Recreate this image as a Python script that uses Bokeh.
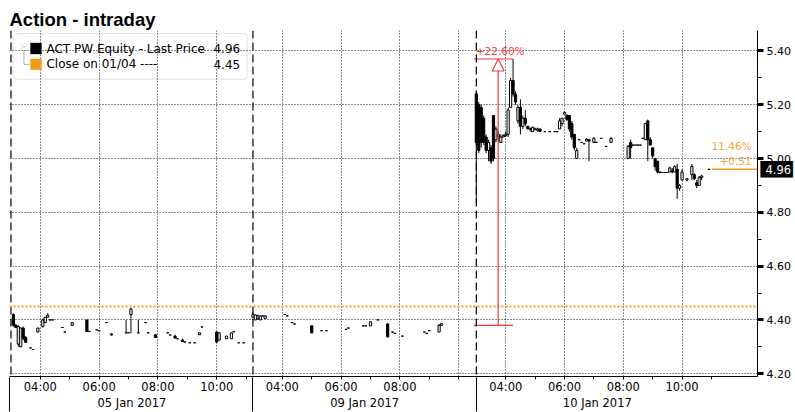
from bokeh.plotting import figure
from bokeh.models import (Range1d, LinearAxis, FixedTicker, Span, Label, Arrow, NormalHead,
                          ColumnDataSource, BoxAnnotation, PrintfTickFormatter)
from bokeh.embed import file_html
from bokeh.resources import INLINE

# ---------------- data ----------------
TITLE = "Action - intraday"
SECURITY = "ACT PW Equity - Last Price"
REF_LABEL = "Close on 01/04 ----"
LAST_PRICE = 4.96
PREV_CLOSE = 4.45
MOVE_LOW = 4.38

SESSION_DATES = ["05 Jan 2017", "09 Jan 2017", "10 Jan 2017"]
SESSION_OPEN = ["03:00", "03:00", "03:00"]
SESSION_CLOSE = ["11:14", "10:36", "11:14"]
AXIS_END = "12:34"
TICK_HOURS = [[4, 5, 6, 7, 8, 9, 10, 11], [4, 5, 6, 7, 8, 9, 10], [4, 5, 6, 7, 8, 9, 10, 11]]
LABEL_HOURS = [[4, 6, 8, 10], [4, 6, 8], [4, 6, 8, 10]]
GRID_HOURS = [[4, 6, 8, 10], [4, 6, 8, 10], [4, 6, 8, 10]]
Y_TICKS = [4.20, 4.40, 4.60, 4.80, 5.00, 5.20, 5.40]
Y_MINOR = [4.20, 4.30, 4.40, 4.50, 4.60, 4.70, 4.80, 4.90, 5.00, 5.10, 5.20, 5.30, 5.40]

# session 1 : 05 Jan 2017
s1_time = ["03:05", "03:10", "03:15", "03:20", "03:25", "03:30", "03:40", "03:45", "03:55", "04:05",
           "04:10", "04:15", "04:20", "04:25", "04:45", "04:50", "05:05", "05:35", "05:40", "05:55",
           "06:00", "06:15", "06:25", "06:55", "07:00", "07:05", "07:20", "07:35", "07:40", "07:55",
           "08:20", "08:25", "08:35", "08:40", "08:50", "08:55", "09:05", "09:15", "09:25", "09:30",
           "10:00", "10:05", "10:20", "10:30", "10:35", "10:45", "10:55"]
s1_open = [4.42, 4.38, 4.31, 4.30, 4.37, 4.335, 4.296, 4.29, 4.355, 4.375,
           4.39, 4.41, 4.40, 4.40, 4.372, 4.355, 4.38, 4.40, 4.357, 4.363,
           4.36, 4.39, 4.348, 4.352, 4.352, 4.42, 4.352, 4.39, 4.352, 4.345,
           4.352, 4.344, 4.34, 4.33, 4.325, 4.318, 4.315, 4.315, 4.345, 4.374,
           4.355, 4.325, 4.33, 4.33, 4.356, 4.315, 4.315]
s1_high = [4.425, 4.385, 4.38, 4.372, 4.375, 4.34, 4.296, 4.29, 4.37, 4.405,
           4.41, 4.425, 4.40, 4.40, 4.372, 4.355, 4.39, 4.40, 4.357, 4.363,
           4.36, 4.39, 4.35, 4.40, 4.352, 4.445, 4.40, 4.39, 4.352, 4.345,
           4.352, 4.344, 4.345, 4.33, 4.33, 4.318, 4.315, 4.315, 4.352, 4.374,
           4.356, 4.355, 4.34, 4.355, 4.356, 4.315, 4.315]
s1_low = [4.375, 4.37, 4.30, 4.30, 4.325, 4.315, 4.296, 4.29, 4.355, 4.372,
          4.39, 4.41, 4.40, 4.40, 4.372, 4.355, 4.38, 4.355, 4.357, 4.363,
          4.36, 4.39, 4.342, 4.352, 4.352, 4.35, 4.352, 4.39, 4.352, 4.335,
          4.352, 4.344, 4.33, 4.33, 4.318, 4.318, 4.315, 4.315, 4.345, 4.374,
          4.315, 4.325, 4.33, 4.33, 4.356, 4.315, 4.315]
s1_close = [4.38, 4.372, 4.375, 4.37, 4.33, 4.317, 4.296, 4.29, 4.37, 4.40,
            4.41, 4.418, 4.40, 4.40, 4.372, 4.355, 4.39, 4.357, 4.357, 4.363,
            4.36, 4.39, 4.344, 4.352, 4.352, 4.44, 4.352, 4.39, 4.352, 4.335,
            4.352, 4.344, 4.333, 4.33, 4.32, 4.318, 4.315, 4.315, 4.352, 4.374,
            4.318, 4.352, 4.34, 4.352, 4.356, 4.315, 4.315]

# session 2 : 09 Jan 2017
s2_time = ["03:00", "03:05", "03:10", "03:15", "03:20", "03:25", "04:05", "04:10", "04:20", "04:25",
           "05:00", "05:20", "05:30", "06:10", "06:15", "06:45", "06:50", "07:00", "07:15", "07:35",
           "07:45", "07:50", "08:05", "08:50", "08:55", "09:00", "09:20", "09:25"]
s2_open = [4.41, 4.40, 4.405, 4.40, 4.415, 4.405, 4.42, 4.415, 4.39, 4.385,
           4.378, 4.36, 4.36, 4.365, 4.37, 4.378, 4.378, 4.378, 4.40, 4.385,
           4.355, 4.35, 4.34, 4.355, 4.35, 4.36, 4.355, 4.38]
s2_high = [4.428, 4.42, 4.42, 4.416, 4.415, 4.416, 4.42, 4.415, 4.39, 4.385,
           4.38, 4.36, 4.36, 4.365, 4.37, 4.378, 4.378, 4.395, 4.40, 4.388,
           4.355, 4.35, 4.34, 4.355, 4.35, 4.36, 4.385, 4.386]
s2_low = [4.41, 4.40, 4.40, 4.40, 4.415, 4.405, 4.42, 4.415, 4.39, 4.385,
          4.35, 4.36, 4.36, 4.365, 4.37, 4.378, 4.378, 4.378, 4.40, 4.335,
          4.355, 4.35, 4.34, 4.355, 4.35, 4.36, 4.355, 4.38]
s2_close = [4.42, 4.418, 4.415, 4.415, 4.415, 4.415, 4.42, 4.415, 4.39, 4.385,
            4.352, 4.36, 4.36, 4.365, 4.37, 4.378, 4.378, 4.393, 4.40, 4.337,
            4.355, 4.35, 4.34, 4.355, 4.35, 4.36, 4.38, 4.386]

# session 3 : 10 Jan 2017
s3_time = ["03:00", "03:05", "03:10", "03:15", "03:20", "03:25", "03:30", "03:35", "03:40", "03:45",
           "03:50", "03:55", "04:00", "04:05", "04:10", "04:15", "04:20", "04:25", "04:30", "04:35",
           "04:40", "04:45", "04:50", "04:55", "05:00", "05:05", "05:10", "05:20", "05:30", "05:40",
           "05:45", "05:50", "05:55", "06:00", "06:05", "06:10", "06:15", "06:20", "06:25", "06:30",
           "06:35", "06:40", "06:45", "06:50", "07:00", "07:05", "07:15", "07:25", "07:35", "08:10",
           "08:15", "08:20", "08:25", "08:30", "08:35", "08:40", "08:45", "08:50", "08:55", "09:00",
           "09:05", "09:10", "09:15", "09:20", "09:25", "09:30", "09:35", "09:40", "09:45", "09:50",
           "09:55", "10:00", "10:10", "10:20", "10:25", "10:30", "10:35", "10:40", "10:55"]
s3_open = [5.24, 5.20, 5.19, 5.15, 5.08, 5.03, 5.04, 5.16, 5.07, 5.08,
           5.06, 5.08, 5.085, 5.09, 5.19, 5.29, 5.24, 5.14, 5.19, 5.12,
           5.15, 5.12, 5.11, 5.10, 5.11, 5.105, 5.11, 5.10, 5.10, 5.10,
           5.10, 5.11, 5.13, 5.165, 5.16, 5.16, 5.13, 5.09, 5.00, 5.07,
           5.06, 5.055, 5.065, 5.07, 5.06, 5.06, 5.075, 5.045, 5.06, 5.00,
           5.06, 5.05, 5.05, 5.05, 5.05, 5.075, 5.07, 5.14, 5.07, 5.04,
           5.00, 4.99, 4.95, 4.948, 4.948, 4.948, 4.95, 4.955, 4.95, 4.96,
           4.89, 4.92, 4.92, 4.94, 4.94, 4.91, 4.90, 4.93, 4.96]
s3_high = [5.25, 5.21, 5.20, 5.16, 5.09, 5.07, 5.05, 5.16, 5.12, 5.10,
           5.09, 5.09, 5.10, 5.19, 5.30, 5.37, 5.25, 5.20, 5.22, 5.16,
           5.18, 5.12, 5.115, 5.12, 5.115, 5.115, 5.11, 5.10, 5.10, 5.10,
           5.10, 5.15, 5.15, 5.175, 5.165, 5.16, 5.14, 5.09, 5.04, 5.07,
           5.06, 5.055, 5.075, 5.07, 5.08, 5.06, 5.075, 5.045, 5.08, 5.05,
           5.07, 5.05, 5.05, 5.05, 5.05, 5.075, 5.13, 5.145, 5.08, 5.04,
           5.00, 4.99, 4.95, 4.948, 4.948, 4.948, 4.97, 4.965, 4.975, 4.98,
           4.905, 4.96, 4.925, 4.98, 4.945, 4.92, 4.935, 4.94, 4.96]
s3_low = [4.83, 5.02, 5.04, 5.05, 5.02, 4.99, 4.98, 4.99, 5.06, 5.06,
          5.06, 5.08, 5.08, 5.08, 5.19, 5.23, 5.20, 5.13, 5.09, 5.11,
          5.12, 5.11, 5.10, 5.10, 5.105, 5.10, 5.10, 5.10, 5.10, 5.10,
          5.10, 5.11, 5.12, 5.165, 5.14, 5.10, 5.07, 5.03, 5.00, 5.07,
          5.06, 5.055, 5.065, 4.99, 5.06, 5.06, 5.075, 5.045, 5.06, 5.00,
          5.00, 5.05, 5.05, 5.05, 5.05, 5.075, 5.07, 4.99, 5.05, 5.00,
          4.955, 4.945, 4.945, 4.948, 4.948, 4.948, 4.95, 4.945, 4.95, 4.85,
          4.88, 4.92, 4.915, 4.92, 4.92, 4.89, 4.90, 4.92, 4.96]
s3_close = [5.06, 5.03, 5.06, 5.06, 5.03, 5.06, 4.99, 5.00, 5.11, 5.09,
            5.08, 5.085, 5.09, 5.18, 5.29, 5.24, 5.21, 5.19, 5.12, 5.15,
            5.13, 5.11, 5.11, 5.115, 5.11, 5.11, 5.10, 5.10, 5.10, 5.10,
            5.10, 5.14, 5.15, 5.172, 5.145, 5.11, 5.08, 5.04, 5.03, 5.07,
            5.06, 5.055, 5.072, 5.065, 5.075, 5.06, 5.075, 5.045, 5.075, 5.045,
            5.04, 5.05, 5.05, 5.05, 5.05, 5.075, 5.13, 5.07, 5.05, 5.01,
            4.97, 4.95, 4.948, 4.948, 4.948, 4.948, 4.965, 4.95, 4.97, 4.89,
            4.90, 4.95, 4.925, 4.97, 4.925, 4.90, 4.93, 4.935, 4.96]

# ---------------- styles / layout ----------------
ORANGE = "#f59a1b"
ORANGE_TXT = "#f5a53c"
RED = "#f03c3c"
FONT = "DejaVu Sans"
W, H = 795, 412
# frame geometry in canvas pixels (used only to place decorations)
FR_L, FR_T, FR_W, FR_H = 9.0, 30.0, 749.0, 347.3
PX_PER_UNIT = 270.0
BAR_W = 0.075


def hm(s):
    hh, mm = s.split(":")
    return int(hh) + int(mm) / 60.0


open_h = [hm(s) for s in SESSION_OPEN]
close_h = [hm(s) for s in SESSION_CLOSE]
offsets = [0.0]
for k in range(1, len(SESSION_DATES)):
    offsets.append(offsets[-1] + close_h[k - 1] - open_h[k - 1])


def pos(k, hours):
    return offsets[k] + hours - open_h[k]


X0 = -0.05
X1 = pos(2, hm(AXIS_END))
Y1 = 5.476
Y0 = Y1 - FR_H / PX_PER_UNIT


def U(px):
    return X0 + (px - FR_L) / FR_W * (X1 - X0)


def V(py):
    return Y1 - (py - FR_T) / PX_PER_UNIT


# candle source
xs, oo, hh_, ll, cc = [], [], [], [], []
for k, (t, o, h, l, c) in enumerate([(s1_time, s1_open, s1_high, s1_low, s1_close),
                                     (s2_time, s2_open, s2_high, s2_low, s2_close),
                                     (s3_time, s3_open, s3_high, s3_low, s3_close)]):
    for i in range(len(t)):
        xs.append(pos(k, hm(t[i])))
        oo.append(o[i]); hh_.append(h[i]); ll.append(l[i]); cc.append(c[i])
src = ColumnDataSource(dict(
    x=xs, high=hh_, low=ll,
    top=[max(a, b) for a, b in zip(oo, cc)],
    bottom=[min(a, b) for a, b in zip(oo, cc)],
    fill=["black" if b < a else "white" for a, b in zip(oo, cc)],
))

p = figure(width=W, height=H, x_range=Range1d(X0, X1), y_range=Range1d(Y0, Y1),
           output_backend="svg", toolbar_location=None, y_axis_location="right",
           min_border_left=int(FR_L), min_border_right=37, min_border_top=30, min_border_bottom=31,
           title=TITLE)
p.outline_line_color = None
p.background_fill_color = "white"
p.border_fill_color = "white"
p.title.text_font = "Liberation Sans"
p.title.text_font_size = "18.5px"
p.title.text_font_style = "bold"
p.title.text_color = "black"
p.title.standoff = 2
p.title.offset = 0
p.title.align = "left"

# grids
p.xgrid.ticker = FixedTicker(ticks=[pos(k, h) for k in range(3) for h in GRID_HOURS[k]])
p.ygrid.ticker = FixedTicker(ticks=Y_TICKS)
for g in (p.xgrid[0], p.ygrid[0]):
    g.grid_line_color = "black"
    g.grid_line_dash = "1 2"
    g.grid_line_width = 1
    g.grid_line_alpha = 0.9

# session separators
for k in range(3):
    p.add_layout(Span(location=offsets[k], dimension="height", line_color="black",
                      line_dash="8 4", line_width=1.2))
# previous close
p.add_layout(Span(location=PREV_CLOSE, dimension="width", line_color=ORANGE,
                  line_dash="2 2", line_width=2))

# candles
p.segment(x0="x", x1="x", y0="low", y1="high", source=src, line_color="black", line_width=1)
p.vbar(x="x", width=BAR_W, top="top", bottom="bottom", fill_color="fill", line_color="black",
       line_width=1, source=src)

# bottom time axis
sep = [X0, offsets[1], offsets[2]]
tick_u = [pos(k, h) for k in range(3) for h in TICK_HOURS[k]]
overrides = {}
for k in range(3):
    for h in TICK_HOURS[k]:
        overrides[pos(k, h)] = ("%02d:00" % h) if h in LABEL_HOURS[k] else ""
xa = p.xaxis[0]
xa.ticker = FixedTicker(ticks=tick_u)
xa.major_label_overrides = overrides
xa.major_tick_out = 3
xa.major_tick_in = 0
xa.minor_tick_out = 0
xa.minor_tick_in = 0
xa.major_label_standoff = 0
xa.axis_line_color = "black"
xa.major_label_text_font = FONT
xa.major_label_text_font_size = "11.5px"
xa.major_label_text_color = "black"

# date axis; its minor ticks draw the session separators through both axis rows
centers = [(pos(k, open_h[k]) + pos(k, close_h[k])) / 2 for k in range(3)]
da = LinearAxis(ticker=FixedTicker(ticks=centers, minor_ticks=sep),
                major_label_overrides={centers[k]: SESSION_DATES[k] for k in range(3)},
                axis_line_color=None, major_tick_line_color=None,
                major_tick_out=0, major_tick_in=0, minor_tick_out=15, minor_tick_in=19,
                minor_tick_line_color="black", minor_tick_line_width=1,
                major_label_standoff=-16, major_label_text_font=FONT,
                major_label_text_font_size="11.5px", major_label_text_color="black")
p.add_layout(da, "below")

# right price axis
ya = p.yaxis[0]
ya.ticker = FixedTicker(ticks=Y_TICKS, minor_ticks=Y_MINOR)
ya.formatter = PrintfTickFormatter(format="%.2f")
ya.major_tick_out = 6
ya.major_tick_in = 0
ya.major_tick_line_width = 3
ya.minor_tick_out = 4
ya.minor_tick_in = 0
ya.major_label_standoff = 3
ya.axis_line_color = "black"
ya.major_label_text_font = FONT
ya.major_label_text_font_size = "11px"
ya.major_label_text_color = "black"


def tag_axis(text, color, size, standoff):
    return LinearAxis(ticker=FixedTicker(ticks=[LAST_PRICE]),
                      major_label_overrides={LAST_PRICE: text},
                      axis_line_color=None, major_tick_line_color=None, minor_tick_line_color=None,
                      major_tick_out=0, major_tick_in=0, minor_tick_out=0, minor_tick_in=0,
                      major_label_standoff=standoff, major_label_text_font=FONT,
                      major_label_text_font_size=size, major_label_text_color=color)


# last-price tag: black box + white value, pulled back over the price axis
p.add_layout(tag_axis("\u2588\u2588\u2588", "black", "14px", -33), "right")
p.add_layout(tag_axis("%.2f" % LAST_PRICE, "white", "11.5px", -30), "right")

# move annotation (red)
s3_hi_i = max(range(len(s3_high)), key=lambda i: s3_high[i])
move_high = s3_high[s3_hi_i]
bx0 = offsets[2] - 0.08
bx1 = pos(2, hm(s3_time[s3_hi_i]))
ax = bx0 + 0.62 * (bx1 - bx0)
p.segment(x0=[bx0, bx0], x1=[bx1, bx1], y0=[MOVE_LOW, move_high], y1=[MOVE_LOW, move_high],
          line_color=RED, line_width=1.2)
p.add_layout(Arrow(x_start=ax, y_start=MOVE_LOW, x_end=ax, y_end=move_high,
                   line_color=RED, line_width=1.2,
                   end=NormalHead(size=12, fill_color="white", line_color=RED, line_width=1.2)))
p.add_layout(Label(x=bx0 + 0.06, y=move_high, y_offset=2, text="+%.2f%%" % ((move_high / MOVE_LOW - 1) * 100),
                   text_color=RED, text_font=FONT, text_font_size="10.5px", text_baseline="bottom"))

# last price vs previous close (orange)
last_u = xs[-1]
p.segment(x0=[last_u + 0.1], x1=[X1], y0=[LAST_PRICE], y1=[LAST_PRICE], line_color=ORANGE, line_width=1.5)
p.add_layout(Label(x=X1 - 0.2, y=LAST_PRICE, y_offset=23, text="%.2f%%" % ((LAST_PRICE / PREV_CLOSE - 1) * 100),
                   text_color=ORANGE_TXT, text_font=FONT, text_font_size="10.5px",
                   text_align="right", text_baseline="middle"))
p.add_layout(Label(x=X1 - 0.2, y=LAST_PRICE, y_offset=8, text="%+.2f" % (LAST_PRICE - PREV_CLOSE),
                   text_color=ORANGE_TXT, text_font=FONT, text_font_size="10.5px",
                   text_align="right", text_baseline="middle"))

# legend (drawn)
p.add_layout(BoxAnnotation(left=U(12.5), right=U(247), top=V(33), bottom=V(79),
                           fill_color=None, line_color="#9a9a9a", line_width=1, border_radius=4))
p.add_layout(BoxAnnotation(left=U(30), right=U(41), top=V(42.5), bottom=V(53.5),
                           fill_color="black", fill_alpha=1, line_color="black"))
p.add_layout(BoxAnnotation(left=U(30), right=U(41), top=V(58.5), bottom=V(69.5),
                           fill_color=ORANGE, fill_alpha=1, line_color=ORANGE))
p.add_layout(BoxAnnotation(left=U(20.5), right=U(26.5), top=V(43.5), bottom=V(49.5),
                           fill_color=None, line_color="#b0b0b0", line_width=1))
p.segment(x0=[U(22), U(23.5), U(23.5)], x1=[U(25), U(23.5), U(29)],
          y0=[V(46.5), V(49.5), V(64)], y1=[V(46.5), V(64), V(64)],
          line_color="#b0b0b0", line_width=1)
for txt, yy in ((SECURITY, 48.5), (REF_LABEL, 64)):
    p.add_layout(Label(x=U(46), y=V(yy), text=txt, text_font=FONT, text_font_size="12px",
                       text_color="black", text_baseline="middle"))
for val, yy in ((LAST_PRICE, 48.5), (PREV_CLOSE, 64)):
    p.add_layout(Label(x=U(240), y=V(yy), text="%.2f" % val, text_font=FONT, text_font_size="12px",
                       text_color="black", text_baseline="middle", text_align="right"))

open("out.html", "w").write(file_html(p, INLINE))
